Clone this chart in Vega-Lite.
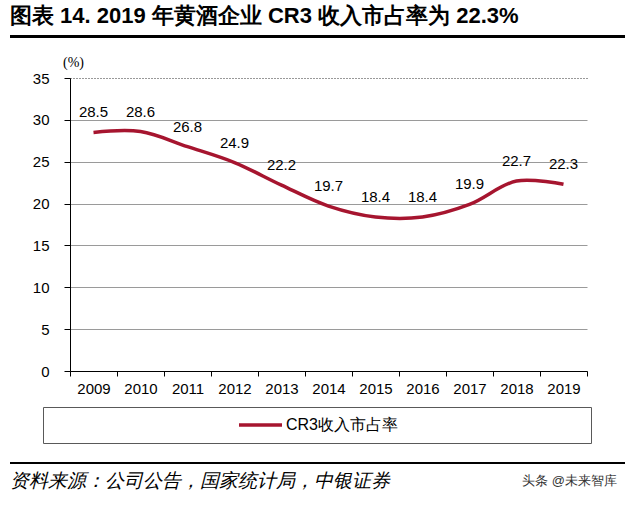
{
  "$schema": "https://vega.github.io/schema/vega-lite/v6.json",
  "background": "white",
  "padding": {"left": 10, "top": 5, "right": 3, "bottom": 5},
  "config": {
    "view": {"stroke": null},
    "font": "Liberation Sans"
  },
  "title": {
    "text": "图表 14. 2019 年黄酒企业 CR3 收入市占率为 22.3%",
    "anchor": "start",
    "fontSize": 22,
    "fontWeight": "bold",
    "font": "Liberation Sans",
    "color": "black",
    "offset": 7
  },
  "bounds": "flush",
  "spacing": 0,
  "vconcat": [
    {
      "width": 615, "height": 3,
      "view": {"fill": "black", "stroke": null},
      "data": {"values": []},
      "mark": "point"
    },
    {
      "width": 615, "height": 40,
      "data": {"values": []},
      "mark": "point"
    },
    {
      "width": 577,
      "height": 293,
      "data": {
        "values": [
          {"year": "2009", "value": 28.5, "series": "CR3收入市占率"},
          {"year": "2010", "value": 28.6, "series": "CR3收入市占率"},
          {"year": "2011", "value": 26.8, "series": "CR3收入市占率"},
          {"year": "2012", "value": 24.9, "series": "CR3收入市占率"},
          {"year": "2013", "value": 22.2, "series": "CR3收入市占率"},
          {"year": "2014", "value": 19.7, "series": "CR3收入市占率"},
          {"year": "2015", "value": 18.4, "series": "CR3收入市占率"},
          {"year": "2016", "value": 18.4, "series": "CR3收入市占率"},
          {"year": "2017", "value": 19.9, "series": "CR3收入市占率"},
          {"year": "2018", "value": 22.7, "series": "CR3收入市占率"},
          {"year": "2019", "value": 22.3, "series": "CR3收入市占率"}
        ]
      },
      "encoding": {
        "x": {
          "field": "year", "type": "ordinal",
          "scale": {"type": "band", "paddingInner": 0, "paddingOuter": 0, "range": [60, 577]},
          "axis": {
            "title": null,
            "labelAngle": 0,
            "labelFontSize": 15,
            "labelColor": "black",
            "labelPadding": 5,
            "tickBand": "extent",
            "tickSize": 5,
            "tickColor": "black",
            "domainColor": "black",
            "grid": false
          }
        },
        "y": {
          "field": "value", "type": "quantitative",
          "scale": {"domain": [0, 35], "nice": false},
          "axis": {
            "offset": -60,
            "values": [0, 5, 10, 15, 20, 25, 30, 35],
            "title": "(%)",
            "titleAngle": 0,
            "titleX": 3,
            "titleY": -12,
            "titleAlign": "center",
            "titleBaseline": "alphabetic",
            "titleFont": "Liberation Serif",
            "titleFontSize": 14,
            "titleFontWeight": "normal",
            "titleColor": "black",
            "labelFontSize": 15,
            "labelColor": "black",
            "labelPadding": 15,
            "tickSize": 6,
            "tickColor": "black",
            "domainColor": "black",
            "grid": true,
            "gridColor": {"condition": {"test": "datum.value === 35", "value": "#333333"}, "value": "#9a9a9a"},
            "gridDash": {"condition": {"test": "datum.value === 35", "value": [1, 2]}, "value": []}
          }
        }
      },
      "layer": [
        {
          "mark": {"type": "line", "interpolate": "catmull-rom", "strokeWidth": 3.5},
          "encoding": {
            "color": {
              "field": "series", "type": "nominal",
              "scale": {"range": ["#A6152F"]},
              "legend": {
                "orient": "none",
                "legendX": 33,
                "legendY": 372,
                "title": " ",
                "titleOrient": "right",
                "titlePadding": 183,
                "titleFontSize": 15,
                "padding": 10,
                "strokeColor": "#595959",
                "fillColor": "white",
                "symbolOffset": 184,
                "symbolType": "stroke",
                "symbolSize": 1849,
                "symbolStrokeWidth": 3.5,
                "clipHeight": 16,
                "labelFontSize": 16,
                "labelColor": "black",
                "labelOffset": 2
              }
            }
          }
        },
        {
          "mark": {"type": "text", "dy": -15, "baseline": "alphabetic", "fontSize": 15, "color": "black"},
          "encoding": {
            "text": {"field": "value", "type": "quantitative", "format": ".1f"}
          }
        }
      ]
    },
    {
      "width": 615, "height": 91,
      "data": {"values": []},
      "mark": "point"
    },
    {
      "width": 615, "height": 2,
      "view": {"fill": "black", "stroke": null},
      "data": {"values": []},
      "mark": "point",
      "title": {
        "text": "资料来源：公司公告，国家统计局，中银证券",
        "orient": "bottom",
        "anchor": "start",
        "fontSize": 19,
        "fontStyle": "italic",
        "fontWeight": "normal",
        "color": "black",
        "offset": 8
      }
    },
    {
      "width": 615, "height": 1,
      "data": {"values": []},
      "mark": "point",
      "title": {
        "text": "头条 @未来智库",
        "orient": "bottom",
        "anchor": "end",
        "dx": -8,
        "fontSize": 13,
        "fontWeight": "normal",
        "color": "#333333",
        "offset": 10
      }
    }
  ]
}
